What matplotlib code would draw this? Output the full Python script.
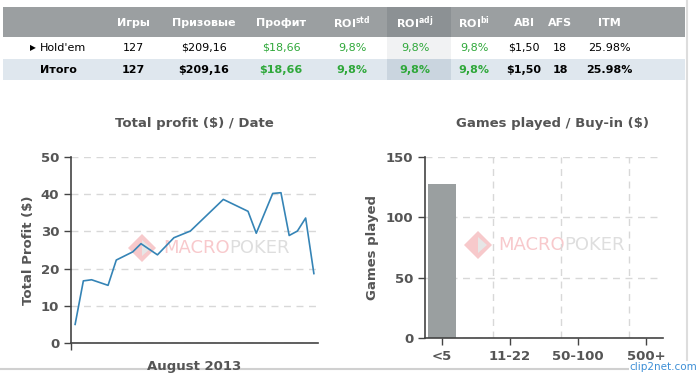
import matplotlib; matplotlib.use('Agg')
import matplotlib.pyplot as plt
from matplotlib.patches import Rectangle, Polygon

plt.rcParams.update({'font.family': 'DejaVu Sans', 'font.size': 8})
GREY_TXT = '#555555'
GREEN = '#2fa83a'
LINE = '#3584b6'
BAR = '#9a9fa0'
GRID = '#d8d8d8'

# table
col_names = ['Игры', 'Призовые', 'Профит', 'ROI$^{\\mathbf{std}}$', 'ROI$^{\\mathbf{adj}}$',
             'ROI$^{\\mathbf{bi}}$', 'ABI', 'AFS', 'ITM']
row_names = ["Hold'em", 'Итого']
row_holdem = ['127', '$209,16', '$18,66', '9,8%', '9,8%', '9,8%', '$1,50', '18', '25.98%']
row_total = ['127', '$209,16', '$18,66', '9,8%', '9,8%', '9,8%', '$1,50', '18', '25.98%']
green_cols = [2, 3, 4, 5]

# profit by day of August 2013
days = [1, 2, 3, 5, 6, 8, 9, 11, 13, 15, 19, 22, 23, 25, 26, 27, 28, 29, 30]
profit = [5.0, 16.7, 17.0, 15.5, 22.3, 24.5, 26.7, 23.7, 28.3, 30.1, 38.6, 35.4,
          29.5, 40.2, 40.4, 28.9, 30.1, 33.6, 18.66]

# games by buy-in
buyins = ['<5', '5-10', '11-22', '22-50', '50-100', '100-500', '500+']
games = [127, 0, 0, 0, 0, 0, 0]

W, H = 700, 373
fig = plt.figure(figsize=(W / 100, H / 100), dpi=100)

# background layer in pixel coords
bg = fig.add_axes([0, 0, 1, 1], zorder=0)
bg.set_xlim(0, W)
bg.set_ylim(H, 0)
bg.axis('off')

col_x = [133, 204, 281, 352, 415, 474, 524, 560, 609]
bg.add_patch(Rectangle((3, 7), 682, 30, color='#9b9fa1', lw=0))
bg.add_patch(Rectangle((3, 37), 682, 22, color='white', lw=0))
bg.add_patch(Rectangle((3, 59), 682, 21, color='#dfe7ee', lw=0))
bg.add_patch(Rectangle((387, 7), 64, 30, color='#8c9194', lw=0))
bg.add_patch(Rectangle((387, 37), 64, 22, color='#f1f2f3', lw=0))
bg.add_patch(Rectangle((387, 59), 64, 21, color='#cad5df', lw=0))
bg.plot([687, 687], [0, H], color='#dddddd', lw=1.5)
bg.plot([0, 687], [369, 369], color='#d0d0d0', lw=1.5)

for x, name in zip(col_x, col_names):
    bg.text(x, 23, name, color='white', fontweight='bold', ha='center', va='center')
bg.text(33, 48, '▶', fontsize=5.5, ha='center', va='center', color='black')
bg.text(40, 48, row_names[0], ha='left', va='center', color='black')
bg.text(40, 70, row_names[1], ha='left', va='center', color='black', fontweight='bold')
for i, x in enumerate(col_x):
    c = GREEN if i in green_cols else 'black'
    bg.text(x, 48, row_holdem[i], ha='center', va='center', color=c)
    bg.text(x, 70, row_total[i], ha='center', va='center', color=c, fontweight='bold')

bg.text(194, 124, 'Total profit ($) / Date', ha='center', va='center',
        fontsize=9.5, fontweight='bold', color=GREY_TXT)
bg.text(553, 124, 'Games played / Buy-in ($)', ha='center', va='center',
        fontsize=9.5, fontweight='bold', color=GREY_TXT)

# watermarks
for cx, tx, ty in [(142, 163, 248), (478, 498, 245)]:
    bg.add_patch(Polygon([(cx - 14, ty), (cx, ty - 14), (cx + 14, ty), (cx, ty + 14)],
                         closed=True, color='#f7c9cb', lw=0))
    bg.add_patch(Polygon([(cx, ty - 8), (cx + 9, ty), (cx, ty + 8)],
                         closed=True, color='#e6e6e6', lw=0))
    t = bg.text(tx, ty, 'MACRO', ha='left', va='center', fontsize=13, color='#f8c9cc')
    fig.canvas.draw()
    bb = t.get_window_extent().transformed(bg.transData.inverted())
    bg.text(bb.x1, ty, 'POKER', ha='left', va='center', fontsize=13, color='#dedede')

bg.text(697, 367, 'clip2net.com', ha='right', va='center', fontsize=7.5, color='#3d8fd6',
        bbox=dict(facecolor='white', edgecolor='none', pad=0.5), zorder=5)

def style(ax):
    ax.patch.set_alpha(0)
    for s in ['top', 'right']:
        ax.spines[s].set_visible(False)
    for s in ['left', 'bottom']:
        ax.spines[s].set_color('#444444')
        ax.spines[s].set_linewidth(1.2)
    ax.tick_params(colors='#444444', labelcolor=GREY_TXT, labelsize=9.5, length=5, width=1)
    for lab in ax.get_yticklabels() + ax.get_xticklabels():
        lab.set_fontweight('bold')

# line chart
ax1 = fig.add_axes([71 / W, 1 - 343 / H, 247 / W, 186 / H], zorder=1)
ax1.plot(days, profit, color=LINE, lw=1.2)
ax1.set_xlim(0.5, 30.5)
ax1.set_ylim(0, 50)
ax1.set_yticks([0, 10, 20, 30, 40, 50])
ax1.set_xticks([0.5])
ax1.set_xticklabels([''])
ax1.yaxis.grid(True, color=GRID, ls=(0, (5, 4)), lw=1)
ax1.set_axisbelow(True)
ax1.set_xlabel('August 2013', fontweight='bold', color=GREY_TXT, fontsize=9.5, labelpad=4)
ax1.set_ylabel('Total Profit ($)', fontweight='bold', color=GREY_TXT, fontsize=9.5, labelpad=4)
style(ax1)

# bar chart
ax2 = fig.add_axes([425 / W, 1 - 338 / H, 238 / W, 181.3 / H], zorder=1)
xs = list(range(len(buyins)))
ax2.bar(xs, games, width=0.8, color=BAR, zorder=2)
ax2.set_xlim(-0.5, len(buyins) - 0.5)
ax2.set_ylim(0, 150)
ax2.set_yticks([0, 50, 100, 150])
ax2.set_xticks(xs[::2])
ax2.set_xticklabels(buyins[::2])
ax2.yaxis.grid(True, color=GRID, ls=(0, (5, 4)), lw=1)
for b in [1.5, 3.5, 5.5]:
    ax2.axvline(b, color=GRID, ls=(0, (5, 4)), lw=1, zorder=0)
ax2.set_axisbelow(True)
ax2.set_ylabel('Games played', fontweight='bold', color=GREY_TXT, fontsize=9.5, labelpad=5)
style(ax2)

fig.savefig('out.png', dpi=100)
